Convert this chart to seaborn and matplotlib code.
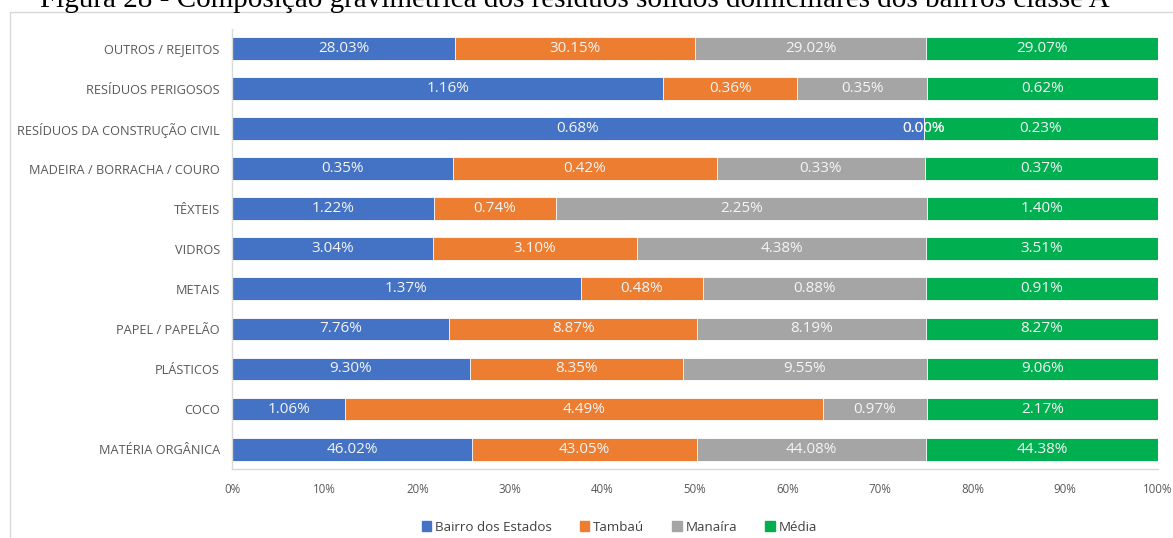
import matplotlib
matplotlib.use("Agg")
import matplotlib.pyplot as plt
import matplotlib.patches as mpatches
import seaborn as sns
import pandas as pd
import numpy as np

categories = ["OUTROS / REJEITOS", "RESÍDUOS PERIGOSOS", "RESÍDUOS DA CONSTRUÇÃO CIVIL",
              "MADEIRA / BORRACHA / COURO", "TÊXTEIS", "VIDROS", "METAIS",
              "PAPEL / PAPELÃO", "PLÁSTICOS", "COCO", "MATÉRIA ORGÂNICA"]
bairro_estados = [28.03, 1.16, 0.68, 0.35, 1.22, 3.04, 1.37, 7.76, 9.30, 1.06, 46.02]
tambau = [30.15, 0.36, 0.00, 0.42, 0.74, 3.10, 0.48, 8.87, 8.35, 4.49, 43.05]
manaira = [29.02, 0.35, 0.00, 0.33, 2.25, 4.38, 0.88, 8.19, 9.55, 0.97, 44.08]
media = [29.07, 0.62, 0.23, 0.37, 1.40, 3.51, 0.91, 8.27, 9.06, 2.17, 44.38]
series_names = ["Bairro dos Estados", "Tambaú", "Manaíra", "Média"]
colors = ["#4472C4", "#ED7D31", "#A5A5A5", "#00B050"]

title = "Figura 28 - Composição gravimétrica dos resíduos sólidos domiciliares dos bairros classe A"

sns.set_style("white")
plt.rcParams["font.family"] = ["Open Sans", "DejaVu Sans"]

df = pd.DataFrame({"categoria": categories, "Bairro dos Estados": bairro_estados,
                   "Tambaú": tambau, "Manaíra": manaira, "Média": media})
vals = df[series_names].to_numpy()
pct = vals / vals.sum(axis=1, keepdims=True) * 100
cum = np.cumsum(pct, axis=1)

fig = plt.figure(figsize=(11.73, 5.38), dpi=100)
ax = fig.add_axes([0.198, 0.128, 0.789, 0.819])

# stacked bars: draw cumulative totals from the last series back to the first
for i in reversed(range(len(series_names))):
    d = pd.DataFrame({"categoria": categories, "x": cum[:, i]})
    sns.barplot(data=d, x="x", y="categoria", order=categories, color=colors[i],
                width=0.57, edgecolor="white", linewidth=0.6, saturation=1, ax=ax)

# value labels in the middle of each segment
for i in range(len(series_names)):
    centers = cum[:, i] - pct[:, i] / 2
    for j, c in enumerate(centers):
        ax.text(c, j, f"{vals[j, i]:.2f}%", ha="center", va="center",
                color="#F5F5F5", fontsize=11)

ax.set_xlim(0, 100)
ax.set_ylim(len(categories) - 0.5, -0.5)
ax.set_xticks(np.arange(0, 101, 10))
ax.set_xticklabels([f"{t}%" for t in range(0, 101, 10)], color="#595959", fontsize=8.3)
ax.set_yticks(range(len(categories)))
ax.set_yticklabels(categories, color="#595959", fontsize=9.2)
ax.set_xlabel("")
ax.set_ylabel("")
ax.tick_params(axis="y", length=0, pad=9)
ax.tick_params(axis="x", length=0, pad=10)
for s in ["top", "right"]:
    ax.spines[s].set_visible(False)
for s in ["left", "bottom"]:
    ax.spines[s].set_color("#D9D9D9")
    ax.spines[s].set_linewidth(1)

handles = [mpatches.Patch(color=c, label=n) for c, n in zip(colors, series_names)]
fig.legend(handles=handles, loc="center", bbox_to_anchor=(0.528, 0.02), ncol=4,
           frameon=False, fontsize=9.6, handlelength=0.7, handleheight=0.7,
           handletextpad=0.3, columnspacing=2.1, labelcolor="#404040")

# chart area border
fig.patches.append(mpatches.Rectangle((0.0085, -0.05), 1.05, 1.028, transform=fig.transFigure,
                                      fill=False, edgecolor="#D9D9D9", linewidth=1))
fig.text(0.49, 1 - 7 / 538, title, ha="center", va="baseline",
         family="Liberation Serif", fontsize=21, color="black")

fig.savefig("out.png", dpi=100)
